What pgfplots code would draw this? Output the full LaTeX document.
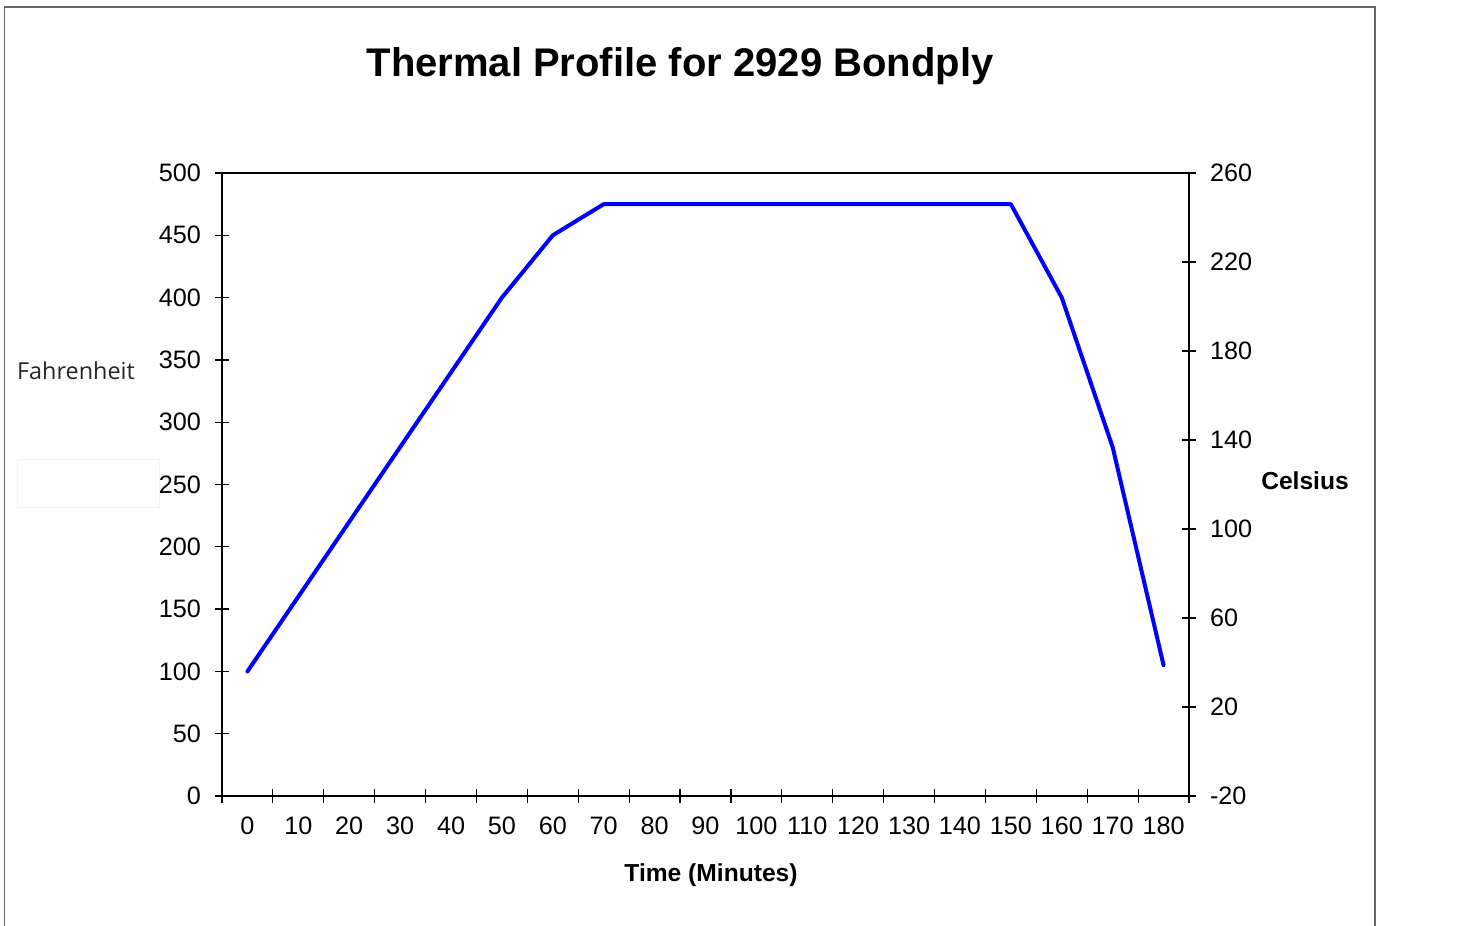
\documentclass[border=0pt]{standalone}
\usepackage{pgfplots}
\pgfplotsset{compat=1.18}
\usepackage{fontspec}
\setmainfont{Liberation Sans}
\newfontfamily\fahrfont{Open Sans}
\begin{document}
\begin{tikzpicture}
\useasboundingbox (-111pt,-65pt) rectangle (623pt,398pt);
% outer frame (gray)
\draw[gray!80!black, line width=0.75pt] (-108.75pt,-70pt) -- (-108.75pt,394.5pt) -- (576.5pt,394.5pt) -- (576.5pt,-70pt);
% faint box
\draw[black!4, line width=0.5pt] (-102pt,168pt) rectangle (-31pt,144pt);
\begin{axis}[
  at={(0pt,0pt)}, anchor=south west,
  scale only axis, width=483.5pt, height=311.5pt,
  xmin=-5, xmax=185, ymin=0, ymax=500,
  xtick={0,10,...,180},
  minor xtick={-5,5,...,185},
  ytick={0,50,...,500},
  xtick pos=bottom, ytick pos=left,
  major tick length=7pt,
  minor tick length=7pt,
  tick align=center,
  axis line style={line width=1.2pt},
  every tick/.style={black, line width=0.6pt},
  every minor tick/.style={black, line width=0.6pt},
  every major x tick/.append style={draw=none},
  tick label style={font=\fontsize{12.6pt}{14pt}\selectfont},
  /pgf/number format/assume math mode=true,
  xticklabel style={yshift=-3.5pt},
  yticklabel style={xshift=-3.5pt},
  clip=false,
]
\addplot[blue, line width=2pt, line join=round, line cap=round] coordinates {
(0,100) (10,160) (20,220) (30,280) (40,340) (50,400) (60,450) (70,475)
(150,475) (160,400) (170,280) (180,105)
};
\end{axis}
\begin{axis}[
  at={(0pt,0pt)}, anchor=south west,
  scale only axis, width=483.5pt, height=311.5pt,
  xmin=-5, xmax=185, ymin=-20, ymax=260,
  axis x line=none,
  axis y line*=right,
  ytick={-20,20,...,260},
  major tick length=7pt,
  tick align=center,
  axis line style={line width=1.2pt, -},
  every tick/.style={black, line width=0.6pt},
  tick label style={font=\fontsize{12.6pt}{14pt}\selectfont},
  /pgf/number format/assume math mode=true,
  yticklabel style={xshift=3.5pt},
]
\end{axis}
\node[font=\bfseries\fontsize{20pt}{24pt}\selectfont] at (229pt,365pt) {Thermal Profile for 2929 Bondply};
\node[font=\fahrfont\fontsize{11.7pt}{13pt}\selectfont, text=black!85] at (-73pt,212.5pt) {Fahrenheit};
\node[font=\bfseries\fontsize{12.3pt}{14pt}\selectfont] at (541.5pt,157.5pt) {Celsius};
\node[font=\bfseries\fontsize{12.3pt}{14pt}\selectfont] at (244.5pt,-39.5pt) {Time (Minutes)};
\end{tikzpicture}
\end{document}
